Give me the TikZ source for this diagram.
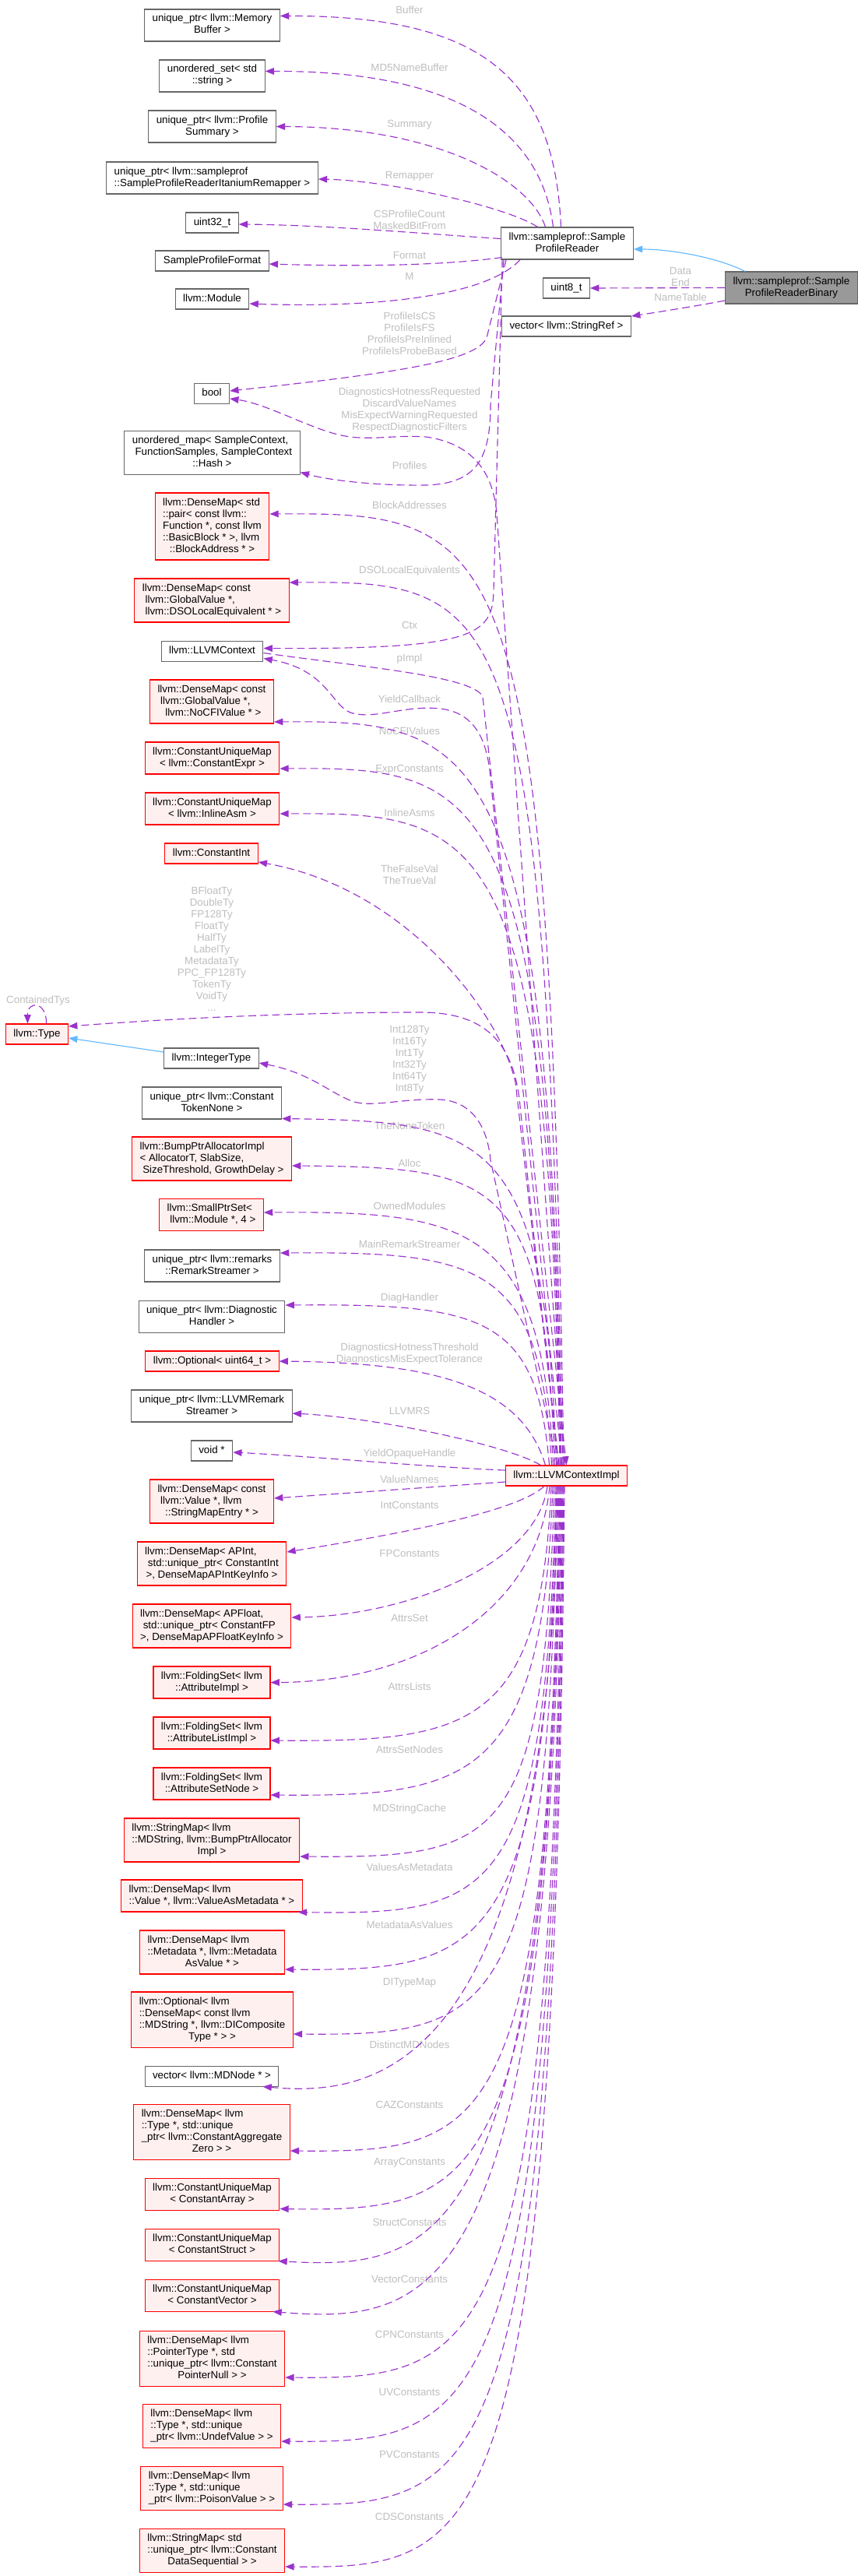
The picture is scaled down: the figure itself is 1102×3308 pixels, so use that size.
\documentclass[tikz,border=0pt]{standalone}
\usepackage{fontspec}
\setmainfont{Liberation Sans}
\usetikzlibrary{arrows.meta, calc}
\definecolor{cMember}{HTML}{9A32CD}
\definecolor{cBase}{HTML}{63B8FF}
\definecolor{cTrunc}{HTML}{FF0000}
\definecolor{cTruncFill}{HTML}{FFF0F0}
\definecolor{cBorder}{HTML}{666666}
\definecolor{cFocus}{HTML}{999999}
\definecolor{cLabel}{HTML}{BEBEBE}
\newcommand{\classtext}[1]{\begin{tabular}{@{}l@{}}#1\end{tabular}}
\newcommand{\lastln}[1]{\multicolumn{1}{@{}c@{}}{#1}}
\tikzset{
  classbox/.style={
    draw=cBorder, fill=white, line width=0.8pt,
    inner xsep=7.5pt, inner ysep=4.125pt,
    font=\fontsize{10}{11.25}\selectfont
  },
  truncbox/.style={classbox, draw=cTrunc, fill=cTruncFill},
  focusbox/.style={classbox, draw=cBorder, fill=cFocus},
  memberedge/.style={
    -{Triangle[length=8.5pt, width=6.5pt]}, line width=0.85pt,
    dash pattern=on 7.5pt off 4pt, color=cMember
  },
  baseedge/.style={
    -{Triangle[length=8.5pt, width=6.5pt]}, line width=0.85pt, color=cBase
  },
  edgelabel/.style={
    font=\fontsize{10}{11.25}\selectfont, text=cLabel,
    align=center, inner sep=0pt
  },
}

\begin{document}
\begin{tikzpicture}[x=0.75pt, y=-0.75pt]
\useasboundingbox (0,0) rectangle (1102,3308);

% ---- SampleProfileReader side ----
\node[classbox] (membuf) at (272.5,32.5) {\classtext{unique\_ptr< llvm::Memory\\\lastln{Buffer >}}};
\node[classbox] (uset) at (272.5,97.5) {\classtext{unordered\_set< std\\\lastln{::string >}}};
\node[classbox] (summary) at (272.5,162.5) {\classtext{unique\_ptr< llvm::Profile\\\lastln{Summary >}}};
\node[classbox] (remapper) at (272.5,228.5) {\classtext{unique\_ptr< llvm::sampleprof\\\lastln{::SampleProfileReaderItaniumRemapper >}}};
\node[classbox] (uint32) at (272.5,286) {\classtext{uint32\_t}};
\node[classbox] (spformat) at (272.5,335) {\classtext{SampleProfileFormat}};
\node[classbox] (module) at (272.5,384) {\classtext{llvm::Module}};
\node[classbox] (reader) at (728.5,312.5) {\classtext{llvm::sampleprof::Sample\\\lastln{ProfileReader}}};
\node[classbox] (uint8) at (727.5,370) {\classtext{uint8\_t}};
\node[focusbox] (binary) at (1016.5,369.5) {\classtext{llvm::sampleprof::Sample\\\lastln{ProfileReaderBinary}}};
\node[classbox] (strref) at (727.5,419) {\classtext{vector< llvm::StringRef >}};
\node[classbox] (bool) at (272,505.5) {\classtext{bool}};
\node[classbox] (umap) at (272.5,581.5) {\classtext{unordered\_map< SampleContext,\\\ FunctionSamples, SampleContext\\\lastln{::Hash >}}};
\node[classbox] (llvmctx) at (272.5,836.5) {\classtext{llvm::LLVMContext}};

% ---- LLVMContextImpl side, upper column ----
\node[truncbox] (blockaddr) at (272.5,676) {\classtext{llvm::DenseMap< std\\::pair< const llvm::\\Function *, const llvm\\::BasicBlock * >, llvm\\\lastln{::BlockAddress * >}}};
\node[truncbox] (dso) at (272,771) {\classtext{llvm::DenseMap< const\\\ llvm::GlobalValue *,\\\lastln{\ llvm::DSOLocalEquivalent * >}}};
\node[truncbox] (nocfi) at (272,901) {\classtext{llvm::DenseMap< const\\\ llvm::GlobalValue *,\\\lastln{\ llvm::NoCFIValue * >}}};
\node[truncbox] (cexpr) at (272.5,973.5) {\classtext{llvm::ConstantUniqueMap\\\lastln{< llvm::ConstantExpr >}}};
\node[truncbox] (inlineasm) at (272.5,1038.5) {\classtext{llvm::ConstantUniqueMap\\\lastln{< llvm::InlineAsm >}}};
\node[truncbox] (cint) at (271.5,1096) {\classtext{llvm::ConstantInt}};
\node[truncbox] (type) at (47.5,1328) {\classtext{llvm::Type}};
\node[classbox] (inttype) at (271.5,1359) {\classtext{llvm::IntegerType}};
\node[classbox] (tokennone) at (272,1416.5) {\classtext{unique\_ptr< llvm::Constant\\\lastln{TokenNone >}}};
\node[truncbox] (bumpptr) at (272,1488) {\classtext{llvm::BumpPtrAllocatorImpl\\< AllocatorT, SlabSize,\\\lastln{\ SizeThreshold, GrowthDelay >}}};
\node[truncbox] (smallptr) at (271.5,1560) {\classtext{llvm::SmallPtrSet<\\\lastln{\ llvm::Module *, 4 >}}};
\node[classbox] (remarkstr) at (272.5,1625.5) {\classtext{unique\_ptr< llvm::remarks\\\lastln{::RemarkStreamer >}}};
\node[classbox] (diaghandler) at (272,1691) {\classtext{unique\_ptr< llvm::Diagnostic\\\lastln{Handler >}}};
\node[truncbox] (optu64) at (272.5,1748) {\classtext{llvm::Optional< uint64\_t >}};
\node[classbox] (llvmrs) at (272,1805.5) {\classtext{unique\_ptr< llvm::LLVMRemark\\\lastln{Streamer >}}};
\node[classbox] (voidp) at (272,1863) {\classtext{void *}};
\node[truncbox] (impl) at (727.5,1895) {\classtext{llvm::LLVMContextImpl}};

% ---- LLVMContextImpl side, lower column ----
\node[truncbox] (valnames) at (272,1928) {\classtext{llvm::DenseMap< const\\\ llvm::Value *, llvm\\\lastln{::StringMapEntry * >}}};
\node[truncbox] (apint) at (272,2008) {\classtext{llvm::DenseMap< APInt,\\\ std::unique\_ptr< ConstantInt\\\lastln{>, DenseMapAPIntKeyInfo >}}};
\node[truncbox] (apfloat) at (272,2088) {\classtext{llvm::DenseMap< APFloat,\\\ std::unique\_ptr< ConstantFP\\\lastln{>, DenseMapAPFloatKeyInfo >}}};
\node[truncbox] (attrimpl) at (272,2160.5) {\classtext{llvm::FoldingSet< llvm\\\lastln{::AttributeImpl >}}};
\node[truncbox] (attrlist) at (272,2225.5) {\classtext{llvm::FoldingSet< llvm\\\lastln{::AttributeListImpl >}}};
\node[truncbox] (attrset) at (272,2290.5) {\classtext{llvm::FoldingSet< llvm\\\lastln{::AttributeSetNode >}}};
\node[truncbox] (mdstring) at (272,2363) {\classtext{llvm::StringMap< llvm\\::MDString, llvm::BumpPtrAllocator\\\lastln{Impl >}}};
\node[truncbox] (vam) at (272,2434.5) {\classtext{llvm::DenseMap< llvm\\\lastln{::Value *, llvm::ValueAsMetadata * >}}};
\node[truncbox] (mav) at (272.5,2507) {\classtext{llvm::DenseMap< llvm\\::Metadata *, llvm::Metadata\\\lastln{AsValue * >}}};
\node[truncbox] (dict) at (272.5,2593.5) {\classtext{llvm::Optional< llvm\\::DenseMap< const llvm\\::MDString *, llvm::DIComposite\\\lastln{Type * > >}}};
\node[classbox] (mdnode) at (272,2666) {\classtext{vector< llvm::MDNode * >}};
\node[truncbox] (caz) at (272,2737.5) {\classtext{llvm::DenseMap< llvm\\::Type *, std::unique\\\_ptr< llvm::ConstantAggregate\\\lastln{Zero > >}}};
\node[truncbox] (carray) at (272.5,2817.5) {\classtext{llvm::ConstantUniqueMap\\\lastln{< ConstantArray >}}};
\node[truncbox] (cstruct) at (272.5,2882.5) {\classtext{llvm::ConstantUniqueMap\\\lastln{< ConstantStruct >}}};
\node[truncbox] (cvector) at (272.5,2947.5) {\classtext{llvm::ConstantUniqueMap\\\lastln{< ConstantVector >}}};
\node[truncbox] (ptrnull) at (272.5,3028.5) {\classtext{llvm::DenseMap< llvm\\::PointerType *, std\\::unique\_ptr< llvm::Constant\\\lastln{PointerNull > >}}};
\node[truncbox] (undef) at (272,3115) {\classtext{llvm::DenseMap< llvm\\::Type *, std::unique\\\lastln{\_ptr< llvm::UndefValue > >}}};
\node[truncbox] (poison) at (272,3195) {\classtext{llvm::DenseMap< llvm\\::Type *, std::unique\\\lastln{\_ptr< llvm::PoisonValue > >}}};
\node[truncbox] (cds) at (272.5,3275) {\classtext{llvm::StringMap< std\\::unique\_ptr< llvm::Constant\\\lastln{DataSequential > >}}};

% ---- edge labels ----
\node[edgelabel] (lBuffer) at (526,13) {Buffer};
\node[edgelabel] (lMD5) at (526,87) {MD5NameBuffer};
\node[edgelabel] (lSummary) at (526,160) {Summary};
\node[edgelabel] (lRemapper) at (526,226) {Remapper};
\node[edgelabel] (lCSProf) at (526,282) {CSProfileCount\\MaskedBitFrom};
\node[edgelabel] (lFormat) at (526,328) {Format};
\node[edgelabel] (lM) at (526,355) {M};
\node[edgelabel] (lProfIs) at (526,428.5) {ProfileIsCS\\ProfileIsFS\\ProfileIsPreInlined\\ProfileIsProbeBased};
\node[edgelabel] (lDataEnd) at (874,355.5) {Data\\End};
\node[edgelabel] (lNameTable) at (874,382) {NameTable};
\node[edgelabel] (lDiag) at (526,527) {DiagnosticsHotnessRequested\\DiscardValueNames\\MisExpectWarningRequested\\RespectDiagnosticFilters};
\node[edgelabel] (lProfiles) at (526,598) {Profiles};
\node[edgelabel] (lBlockAddr) at (526,649) {BlockAddresses};
\node[edgelabel] (lDSO) at (526,733) {DSOLocalEquivalents};
\node[edgelabel] (lCtx) at (526,803) {Ctx};
\node[edgelabel] (lpImpl) at (526,846) {pImpl};
\node[edgelabel] (lYield) at (526,898) {YieldCallback};
\node[edgelabel] (lNoCFI) at (526,939) {NoCFIValues};
\node[edgelabel] (lExpr) at (526,988) {ExprConstants};
\node[edgelabel] (lInline) at (526,1044) {InlineAsms};
\node[edgelabel] (lTrueFalse) at (526,1123.5) {TheFalseVal\\TheTrueVal};
\node[edgelabel] (lTypes) at (272,1219) {BFloatTy\\DoubleTy\\FP128Ty\\FloatTy\\HalfTy\\LabelTy\\MetadataTy\\PPC\_FP128Ty\\TokenTy\\VoidTy\\...};
\node[edgelabel] (lContained) at (49,1285) {ContainedTys};
\node[edgelabel] (lIntTys) at (526,1361) {Int128Ty\\Int16Ty\\Int1Ty\\Int32Ty\\Int64Ty\\Int8Ty};
\node[edgelabel] (lNoneTok) at (526,1446) {TheNoneToken};
\node[edgelabel] (lAlloc) at (526,1494) {Alloc};
\node[edgelabel] (lOwned) at (526,1549) {OwnedModules};
\node[edgelabel] (lMainRS) at (526,1598) {MainRemarkStreamer};
\node[edgelabel] (lDiagH) at (526,1667) {DiagHandler};
\node[edgelabel] (lDiagThr) at (526,1738.5) {DiagnosticsHotnessThreshold\\DiagnosticsMisExpectTolerance};
\node[edgelabel] (lLLVMRS) at (526,1812) {LLVMRS};
\node[edgelabel] (lYieldOH) at (526,1867) {YieldOpaqueHandle};
\node[edgelabel] (lValNames) at (526,1900) {ValueNames};
\node[edgelabel] (lIntC) at (526,1933) {IntConstants};
\node[edgelabel] (lFPC) at (526,1995) {FPConstants};
\node[edgelabel] (lAttrsSet) at (526,2078) {AttrsSet};
\node[edgelabel] (lAttrsLists) at (526,2166) {AttrsLists};
\node[edgelabel] (lAttrsSetNodes) at (526,2247) {AttrsSetNodes};
\node[edgelabel] (lMDStr) at (526,2323) {MDStringCache};
\node[edgelabel] (lVAM) at (526,2398) {ValuesAsMetadata};
\node[edgelabel] (lMAV) at (526,2472) {MetadataAsValues};
\node[edgelabel] (lDIType) at (526,2546) {DITypeMap};
\node[edgelabel] (lDistinct) at (526,2626) {DistinctMDNodes};
\node[edgelabel] (lCAZ) at (526,2703) {CAZConstants};
\node[edgelabel] (lArray) at (526,2777) {ArrayConstants};
\node[edgelabel] (lStruct) at (526,2854) {StructConstants};
\node[edgelabel] (lVector) at (526,2927) {VectorConstants};
\node[edgelabel] (lCPN) at (526,2998) {CPNConstants};
\node[edgelabel] (lUV) at (526,3072) {UVConstants};
\node[edgelabel] (lPV) at (526,3152) {PVConstants};
\node[edgelabel] (lCDS) at (526,3232) {CDSConstants};

% ---- SampleProfileReader members ----
\draw[memberedge] ($(reader.north)+(-8,0)$) .. controls (712,100) and (620,20) .. ($(membuf.east)+(0,-12)$);
\draw[memberedge] ($(reader.north)+(-18,0)$) .. controls (695,170) and (590,91) .. ($(uset.east)+(0,-6)$);
\draw[memberedge] ($(reader.north)+(-28,0)$) .. controls (680,230) and (560,163) .. (summary.east);
\draw[memberedge] ($(reader.north)+(-38,0)$) .. controls (650,265) and (500,232) .. ($(remapper.east)+(0,1.5)$);
\draw[memberedge] ($(reader.west)+(0,-6)$) .. controls (540,300) and (420,289) .. ($(uint32.east)+(0,2)$);
\draw[memberedge] ($(reader.south west)+(2,-3)$) .. controls (560,342) and (450,342) .. ($(spformat.east)+(0,4)$);
\draw[memberedge] ($(reader.south west)+(25,0)$) .. controls (620,385) and (460,395) .. ($(module.east)+(0,6)$);
\draw[memberedge] ($(reader.south west)+(7,0)$) -- (626,430) .. controls (621,462) and (520,478) .. ($(bool.east)+(0,-3.5)$);
\draw[memberedge] ($(reader.south west)+(4,0)$) -- (630,520) .. controls (630,592) and (610,621) .. (547,623) .. controls (480,624) and (420,616) .. ($(umap.east)+(0,25)$);
\draw[memberedge] ($(reader.south west)+(2,0)$) -- (634,760) .. controls (632,815) and (610,834) .. ($(llvmctx.east)+(0,-4)$);

% ---- SampleProfileReaderBinary ----
\draw[baseedge] ($(binary.north)+(-59.5,0)$) .. controls (920,330) and (860,320) .. ($(reader.east)+(0,7.5)$);
\draw[memberedge] (binary.west) -- (uint8.east);
\draw[memberedge] ($(binary.west)+(0,16.5)$) .. controls (900,392) and (850,400) .. ($(strref.east)+(0,-13)$);

% ---- llvm::Type ----
\draw[baseedge] ($(inttype.west)+(0,-8)$) -- ($(type.east)+(0,5)$);
\draw[memberedge] ($(type.north)+(12,0)$) .. controls (60,1285) and (35,1285) .. ($(type.north)+(-12,0)$);

% ---- LLVMContext ----
\draw[memberedge] ($(llvmctx.east)+(0,2)$) .. controls (460,856) and (610,868) .. (620,895) -- (impl.north);

% ---- LLVMContextImpl members, upwards ----
\draw[memberedge] ($(impl.north)+(-2.5,0)$) -- (638,660) .. controls (634,610) and (610,570) .. (547,561) .. controls (500,558) and (470,568) .. (430,557) .. controls (390,546) and (340,518) .. ($(bool.east)+(0,6.5)$);
\draw[memberedge] ($(impl.north)+(-3.5,0)$) .. controls (706,676) and (647,658) .. ($(blockaddr.east)+(0,-16)$);
\draw[memberedge] ($(impl.north)+(-4.5,0)$) .. controls (699,764) and (650,746) .. ($(dso.east)+(0,-23)$);
\draw[memberedge] ($(impl.north)+(-5.5,0)$) -- (630,1000) .. controls (626,950) and (610,915) .. (565,910) .. controls (520,905) and (480,925) .. (450,915) .. controls (425,905) and (420,860) .. ($(llvmctx.east)+(0,9)$);
\draw[memberedge] ($(impl.north)+(-6.5,0)$) .. controls (708,943) and (613,925) .. ($(nocfi.east)+(0,26)$);
\draw[memberedge] ($(impl.north)+(-7.5,0)$) .. controls (707,1003) and (619,985) .. ($(cexpr.east)+(0,13.5)$);
\draw[memberedge] ($(impl.north)+(-8.5,0)$) .. controls (706,1061) and (619,1043) .. ($(inlineasm.east)+(0,6.5)$);
\draw[memberedge] ($(impl.north)+(-9.5,0)$) -- (662,1390) .. controls (642,1300) and (520,1140) .. ($(cint.east)+(0,11)$);
\draw[memberedge] ($(impl.north)+(-10.5,0)$) -- (668,1420) .. controls (660,1335) and (620,1300) .. (540,1300) .. controls (380,1300) and (220,1308) .. ($(type.east)+(0,-10)$);
\draw[memberedge] ($(impl.north)+(-11.5,0)$) -- (630,1490) .. controls (626,1445) and (605,1414) .. (565,1412) .. controls (520,1410) and (480,1422) .. (455,1415) .. controls (425,1405) and (400,1378) .. ($(inttype.east)+(0,6)$);
\draw[memberedge] ($(impl.north)+(-13,0)$) .. controls (701,1453) and (622,1440) .. ($(tokennone.east)+(0,20)$);
\draw[memberedge] ($(impl.north)+(-15,0)$) .. controls (699,1513) and (641,1499) .. ($(bumpptr.east)+(0,9)$);
\draw[memberedge] ($(impl.north)+(-17,0)$) .. controls (697,1573) and (600,1555) .. ($(smallptr.east)+(0,-3)$);
\draw[memberedge] ($(impl.north)+(-19,0)$) .. controls (695,1625) and (620,1607) .. ($(remarkstr.east)+(0,-16.5)$);
\draw[memberedge] ($(impl.north)+(-22,0)$) .. controls (690,1690) and (620,1674) .. ($(diaghandler.east)+(0,-15)$);
\draw[memberedge] ($(impl.north)+(-27,0)$) .. controls (670,1780) and (560,1750) .. (optu64.east);
\draw[memberedge] ($(impl.north)+(-33,0)$) .. controls (650,1855) and (480,1820) .. ($(llvmrs.east)+(0,9.5)$);
\draw[memberedge] ($(impl.west)+(0,-7)$) .. controls (550,1884) and (400,1870) .. ($(voidp.east)+(0,2)$);
\draw[memberedge] ($(impl.west)+(0,8)$) -- ($(valnames.east)+(0,-4)$);

% ---- LLVMContextImpl members, downwards ----
\draw[memberedge] ($(impl.south)+(-28.5,0)$) .. controls (660,1945) and (480,1975) .. ($(apint.east)+(0,-15)$);
\draw[memberedge] ($(impl.south)+(-24.5,0)$) .. controls (690,2010) and (520,2075) .. ($(apfloat.east)+(0,-11)$);
\draw[memberedge] ($(impl.south)+(-21.5,0)$) .. controls (690,2080) and (520,2160) .. (attrimpl.east);
\draw[memberedge] ($(impl.south)+(-19.5,0)$) .. controls (695,2219) and (603,2237) .. ($(attrlist.east)+(0,9.5)$);
\draw[memberedge] ($(impl.south)+(-17.5,0)$) .. controls (697,2289) and (603,2307) .. ($(attrset.east)+(0,14.5)$);
\draw[memberedge] ($(impl.south)+(-15.5,0)$) .. controls (699,2368) and (641,2386) .. ($(mdstring.east)+(0,21)$);
\draw[memberedge] ($(impl.south)+(-13.5,0)$) .. controls (701,2441) and (633,2459) .. ($(vam.south east)+(-6,0)$);
\draw[memberedge] ($(impl.south)+(-12.5,0)$) .. controls (702,2513) and (621,2531) .. ($(mav.east)+(0,22)$);
\draw[memberedge] ($(impl.south)+(-11.5,0)$) .. controls (703,2596) and (635,2614) .. ($(dict.east)+(0,18.5)$);
\draw[memberedge] ($(impl.south)+(-10.5,0)$) .. controls (704,2666) and (480,2692) .. ($(mdnode.south east)+(-21,0)$);
\draw[memberedge] ($(impl.south)+(-9.5,0)$) .. controls (705,2746) and (628,2764) .. ($(caz.east)+(0,24.5)$);
\draw[memberedge] ($(impl.south)+(-8.5,0)$) .. controls (706,2822) and (614,2840) .. ($(carray.east)+(0,19)$);
\draw[memberedge] ($(impl.south)+(-7.5,0)$) .. controls (707,2891) and (560,2915) .. ($(cstruct.south east)+(-2,0)$);
\draw[memberedge] ($(impl.south)+(-6.5,0)$) .. controls (708,2956) and (560,2985) .. ($(cvector.south east)+(-9,0)$);
\draw[memberedge] ($(impl.south)+(-5.5,0)$) .. controls (709,3037) and (621,3055) .. ($(ptrnull.east)+(0,24.5)$);
\draw[memberedge] ($(impl.south)+(-4.5,0)$) .. controls (710,3119) and (617,3137) .. ($(undef.east)+(0,20)$);
\draw[memberedge] ($(impl.south)+(-3.5,0)$) .. controls (711,3200) and (619,3218) .. ($(poison.east)+(0,21)$);
\draw[memberedge] ($(impl.south)+(-2.5,0)$) .. controls (712,3280) and (621,3298) .. ($(cds.east)+(0,21)$);

\end{tikzpicture}
\end{document}
